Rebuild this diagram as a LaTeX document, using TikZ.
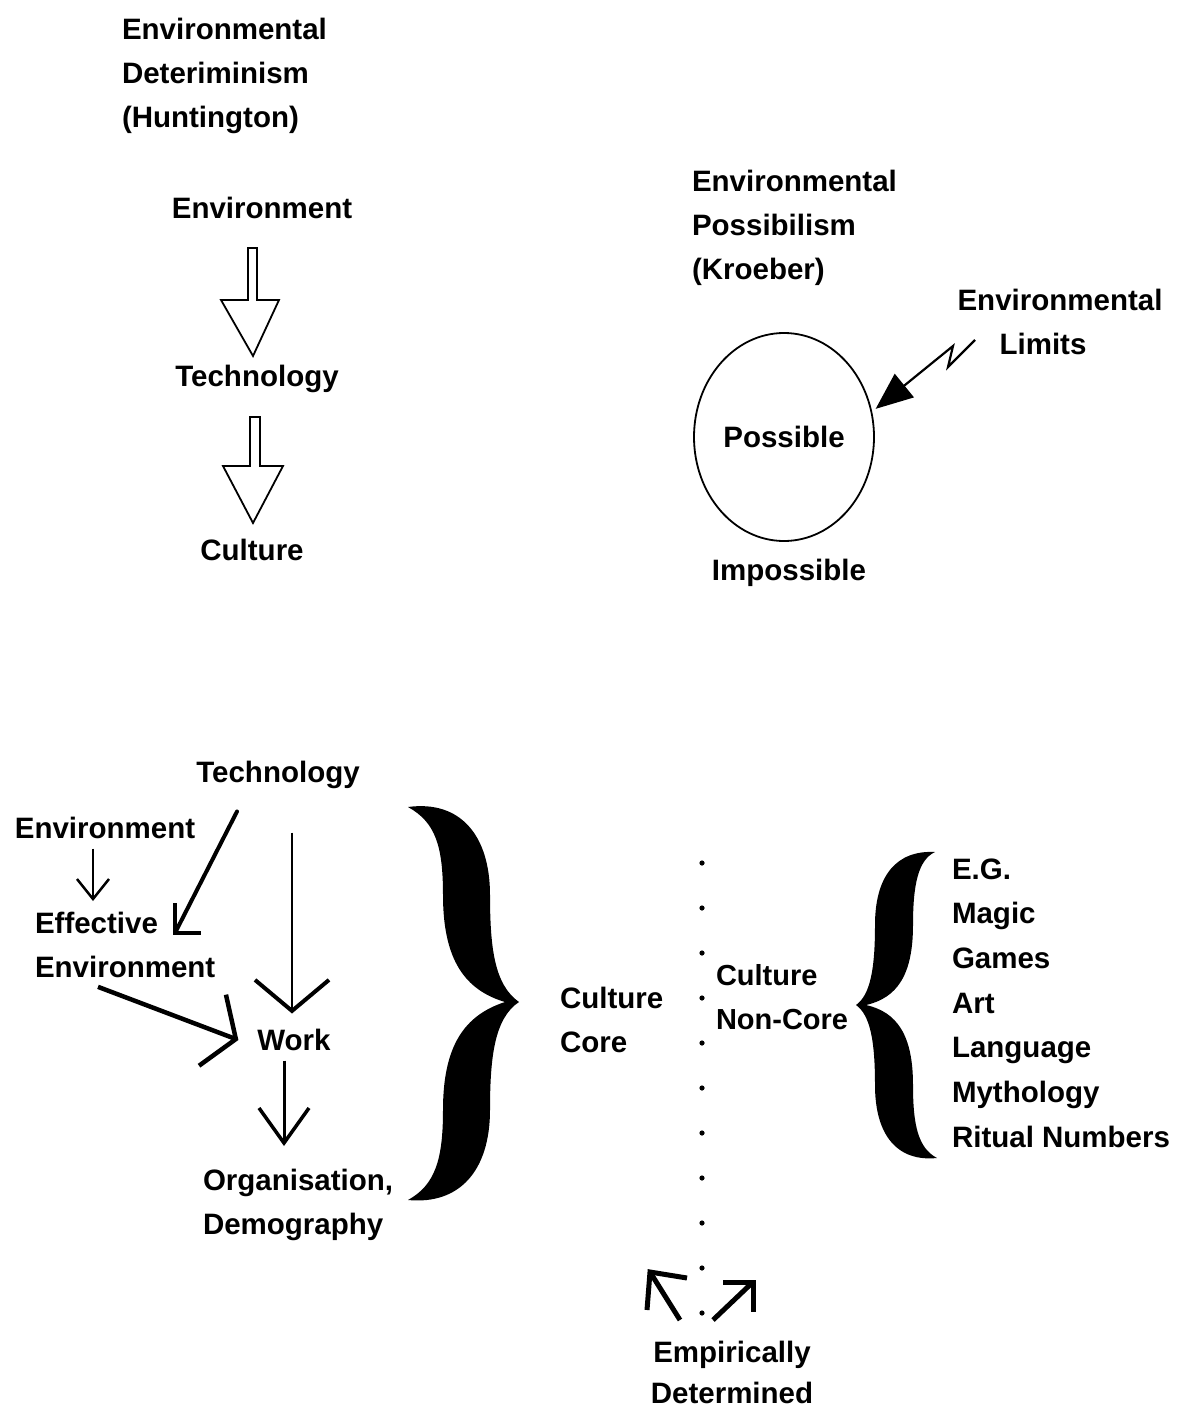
\documentclass[tikz,border=0pt]{standalone}
\usepackage{fontspec}
\setmainfont{Liberation Sans}
\usetikzlibrary{arrows.meta,shapes.geometric,calc}
\begin{document}
\begin{tikzpicture}[x=1pt,y=-1pt,
  txt/.style={inner sep=0pt, outer sep=0pt, font=\fontsize{29.5}{44}\selectfont\bfseries},
  one/.style={txt, text height=21pt, text depth=0pt},
  multi/.style={txt, align=left, anchor=west},
  block/.style={draw, line width=1.8pt, fill=white, line join=miter},
  con/.style={line width=4pt},
]
\useasboundingbox (0,0) rectangle (1182,1413);

% ---------- top left: environmental determinism ----------
\node[multi] (hunt) at (122,76) {Environmental\\Deteriminism\\(Huntington)};
\node[one] (env1) at (262,208) {Environment};
\node[one] (tech1) at (257,376) {Technology};
\node[one] (cult1) at (252,550) {Culture};
\draw[block] (248,248) -- (257,248) -- (257,300) -- (279,300) -- (253,356) -- (221,300) -- (248,300) -- cycle;
\draw[block] (250,417) -- (260,417) -- (260,466) -- (283,466) -- (253,523) -- (223,466) -- (250,466) -- cycle;

% ---------- top right: environmental possibilism ----------
\node[multi] (kroe) at (692,228) {Environmental\\Possibilism\\(Kroeber)};
\node[txt, align=center] (lim) at (1060,322) {Environmental\\Limits\hspace*{34pt}};
\node[one, ellipse, draw, line width=1.8pt, minimum width=180pt, minimum height=208pt] (poss) at (784,437) {Possible};
\node[one] (imp) at (789,570) {Impossible};
\coordinate (limstart) at (975,340);
\draw[line width=2.2pt, -{Triangle[length=37pt,width=30pt]}]
  (limstart) -- (948,367) -- (953,346) -- ([xshift=5pt]poss.18);

% ---------- bottom: cultural ecology ----------
\node[one] (tech2) at (278,772) {Technology};
\node[one] (env2) at (105,828) {Environment};
\node[multi] (eff) at (35,945) {Effective\\Environment};
\node[one] (work) at (294,1040) {Work};
\node[multi] (org) at (203,1205) {Organisation,\\Demography};
\node[multi] (core) at (560,1020) {Culture\\Core};
\node[multi, font=\fontsize{29}{44}\selectfont\bfseries] (noncore) at (716,997) {Culture\\Non-Core};
\node[txt, align=left, anchor=west, font=\fontsize{29.5}{44.7}\selectfont\bfseries] (list) at (952,1003)
  {E.G.\\Magic\\Games\\Art\\Language\\Mythology\\Ritual Numbers};
\node[txt, align=center, font=\fontsize{29.5}{41}\selectfont\bfseries] (emp) at (732,1372) {Empirically\\Determined};

% connectors
\coordinate (effTop) at (93,901);
\draw[line width=2.5pt, -{Straight Barb[length=20pt,width=32pt,line width=2.5pt]}]
  ([shift={(-12,10)}]env2.south) -- (effTop);

\coordinate (effR) at (175,933);
\draw[con, line cap=round] ([shift={(-41,29)}]tech2.south) -- (effR);
\draw[con, line join=miter] ([shift={(0,-30)}]effR) -- (effR) -- ([shift={(26,0)}]effR);

\draw[line width=2pt, -{Straight Barb[length=31pt,width=74pt,line width=4pt]}]
  ([shift={(14,50)}]tech2.south) -- ([shift={(-2,-16)}]work.north);

\draw[line width=4.5pt, -{Straight Barb[length=25pt,width=76pt,line width=4.5pt]}]
  ([shift={(63,9)}]eff.south west) -- ([xshift=-19pt]work.west);

\coordinate (orgTop) at (284,1146);
\draw[line width=3pt, -{Straight Barb[length=35pt,width=50pt,line width=3.5pt]}]
  ([shift={(-10,10)}]work.south) -- (orgTop);

% big brace (culture core)
\fill (408,807)
  .. controls (460,800) and (490,835) .. (490,895)
  .. controls (490,950) and (495,985) .. (519,1002)
  .. controls (495,1018) and (490,1055) .. (490,1110)
  .. controls (490,1170) and (460,1205) .. (408,1200)
  .. controls (435,1185) and (443,1160) .. (443,1110)
  .. controls (443,1045) and (465,1015) .. (505,1002)
  .. controls (465,990) and (443,960) .. (443,895)
  .. controls (443,845) and (435,822) .. (408,807) -- cycle;

% small brace (non-core list)
\fill (935,852)
  .. controls (897,850) and (875,875) .. (875,925)
  .. controls (875,970) and (870,995) .. (856,1005)
  .. controls (870,1015) and (875,1040) .. (875,1085)
  .. controls (875,1135) and (897,1162) .. (937,1158)
  .. controls (918,1148) and (913,1125) .. (913,1085)
  .. controls (913,1035) and (897,1012) .. (866,1005)
  .. controls (897,998) and (913,975) .. (913,925)
  .. controls (913,885) and (918,860) .. (935,852) -- cycle;

% dotted divider
\foreach \k in {0,...,10} \fill (702,863+45*\k) circle (2.6);

% empirically determined arrows
\draw[line width=5pt, line join=miter] (680,1320) -- (650,1272);
\draw[line width=5pt, line join=miter] (687,1278) -- (650,1272) -- (647,1310);
\draw[line width=5pt, line join=miter] (713,1320) -- (753,1282);
\draw[line width=5pt, line join=miter] (723,1282) -- (753,1282) -- (753,1312);
\end{tikzpicture}
\end{document}
